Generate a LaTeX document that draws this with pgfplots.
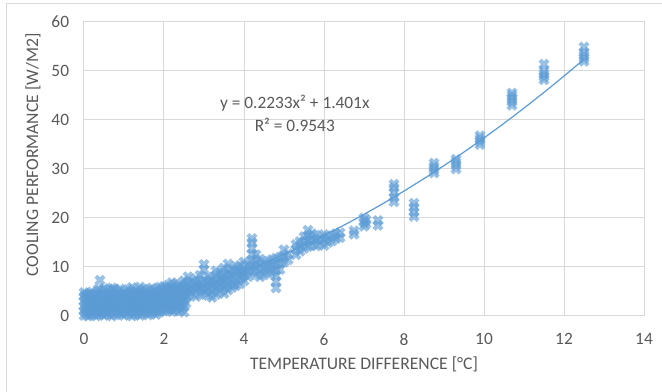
\documentclass[border=0pt]{standalone}
\usepackage{pgfplots}
\pgfplotsset{compat=1.18}
\usepackage{fontspec}
\setmainfont{Carlito}
\definecolor{ser}{RGB}{91,155,213}
\definecolor{gridc}{RGB}{217,217,217}
\definecolor{txt}{RGB}{89,89,89}
\begin{document}
\begin{tikzpicture}
\useasboundingbox (0,0) rectangle (496.5pt,294pt);
\draw[gridc, line width=0.75pt] (4.9pt,0) -- (4.9pt,291pt) -- (496.5pt,291pt);
\begin{axis}[
  at={(63pt,57pt)}, anchor=south west,
  scale only axis, width=420pt, height=220.5pt,
  xmin=0, xmax=14, ymin=0, ymax=60,
  xtick={0,2,...,14}, ytick={0,10,...,60},
  grid=major, major grid style={gridc, line width=0.75pt},
  axis line style={gridc, line width=0.75pt},
  major tick length=0pt,
  tick label style={font=\fontsize{13}{15}\selectfont, text=txt},
  /pgf/number format/assume math mode=true,
  yticklabel style={anchor=east, inner sep=0pt, xshift=-11pt},
  xticklabel style={anchor=north, inner sep=0pt, yshift=-13pt},
  xlabel={TEMPERATURE DIFFERENCE [°C]},
  ylabel={COOLING PERFORMANCE [W/M2]},
  label style={font=\fontsize{13.2}{15}\selectfont, text=txt},
  xlabel style={at={(axis description cs:0.5,-0.163)}, anchor=center, inner sep=0pt},
  ylabel style={at={(axis description cs:-0.091,0.5476)}, anchor=center, inner sep=0pt, rotate=0},
  clip=false,
]
\addplot[only marks, mark=x, mark size=4.3pt, color=ser, mark options={line width=3.1pt, draw opacity=0.62}] coordinates {
(0.00,0.1) (0.00,1.0) (0.00,2.0) (0.00,3.0) (0.00,4.0) (0.00,4.8)
(0.05,0.5) (0.05,2.5) (0.05,3.6) (0.05,1.5) (0.05,4.3)
(0.10,0.0) (0.10,1.2) (0.10,2.2) (0.10,3.3) (0.10,4.4)
(0.15,0.6) (0.15,1.8) (0.15,2.9) (0.15,4.6)
(0.20,0.2) (0.20,1.4) (0.20,2.6) (0.20,3.8) (0.20,4.9)
(0.25,0.7) (0.25,1.9) (0.25,3.1) (0.25,4.2)
(0.30,0.0) (0.30,1.1) (0.30,2.3) (0.30,3.5) (0.30,4.5)
(0.35,0.6) (0.35,1.8) (0.35,3.0) (0.35,4.2) (0.35,5.4)
(0.40,0.3) (0.40,1.5) (0.40,2.7) (0.40,3.9) (0.40,5.2) (0.40,7.3)
(0.45,0.8) (0.45,2.0) (0.45,3.2) (0.45,4.4)
(0.50,0.1) (0.50,1.2) (0.50,2.4) (0.50,3.6) (0.50,4.8) (0.50,5.6)
(0.55,0.6) (0.55,1.8) (0.55,3.0) (0.55,4.2)
(0.60,0.4) (0.60,1.6) (0.60,2.8) (0.60,4.0) (0.60,5.3)
(0.65,1.0) (0.65,2.2) (0.65,3.4) (0.65,4.6)
(0.70,0.0) (0.70,1.3) (0.70,2.5) (0.70,3.7) (0.70,4.9) (0.70,5.7)
(0.75,0.7) (0.75,1.9) (0.75,3.1) (0.75,4.3) (0.75,5.5)
(0.80,0.2) (0.80,1.5) (0.80,2.7) (0.80,3.9) (0.80,5.1)
(0.85,0.9) (0.85,2.1) (0.85,3.3) (0.85,4.6)
(0.90,0.5) (0.90,1.7) (0.90,3.0) (0.90,4.2) (0.90,5.5)
(0.95,0.7) (0.95,2.0) (0.95,3.2) (0.95,4.5)
(1.00,0.1) (1.00,1.3) (1.00,2.6) (1.00,3.8) (1.00,5.0)
(1.05,0.8) (1.05,2.0) (1.05,3.3) (1.05,4.5)
(1.10,0.4) (1.10,1.6) (1.10,2.9) (1.10,4.1) (1.10,5.4)
(1.15,1.0) (1.15,2.2) (1.15,3.4) (1.15,4.7)
(1.20,0.0) (1.20,1.2) (1.20,2.5) (1.20,3.7) (1.20,4.9) (1.20,5.8)
(1.25,0.6) (1.25,1.9) (1.25,3.1) (1.25,4.4)
(1.30,0.3) (1.30,1.5) (1.30,2.8) (1.30,4.0) (1.30,5.2)
(1.35,0.9) (1.35,2.1) (1.35,3.4) (1.35,4.6)
(1.40,0.1) (1.40,1.4) (1.40,2.6) (1.40,3.9) (1.40,5.1) (1.40,5.9)
(1.45,0.8) (1.45,2.0) (1.45,3.3) (1.45,4.6)
(1.50,0.5) (1.50,1.7) (1.50,3.0) (1.50,4.2) (1.50,5.5)
(1.55,1.0) (1.55,2.3) (1.55,3.6) (1.55,4.8)
(1.60,0.2) (1.60,1.4) (1.60,2.7) (1.60,3.9) (1.60,5.3)
(1.65,0.9) (1.65,2.1) (1.65,3.4) (1.65,4.7)
(1.70,0.6) (1.70,1.8) (1.70,3.1) (1.70,4.4) (1.70,5.7)
(1.75,1.1) (1.75,2.4) (1.75,3.7) (1.75,5.0)
(1.80,0.3) (1.80,1.5) (1.80,2.8) (1.80,4.1) (1.80,5.4)
(1.85,1.0) (1.85,2.2) (1.85,3.5) (1.85,4.8)
(1.90,0.8) (1.90,2.0) (1.90,3.3) (1.90,4.6) (1.90,5.9)
(1.95,1.4) (1.95,2.7) (1.95,4.0) (1.95,5.3)
(2.00,1.0) (2.00,2.2) (2.00,3.5) (2.00,4.8) (2.00,6.0)
(2.05,1.6) (2.05,2.9) (2.05,4.2) (2.05,5.6)
(2.10,1.3) (2.10,2.6) (2.10,3.9) (2.10,5.2) (2.10,6.3)
(2.15,1.8) (2.15,3.0) (2.15,4.4) (2.15,5.7)
(2.20,0.9) (2.20,2.0) (2.20,3.2) (2.20,4.5) (2.20,5.8) (2.20,6.8)
(2.25,1.2) (2.25,2.5) (2.25,3.8) (2.25,5.1)
(2.30,1.5) (2.30,2.8) (2.30,4.1) (2.30,5.4) (2.30,6.6)
(2.35,2.0) (2.35,3.3) (2.35,4.6) (2.35,6.0)
(2.40,1.0) (2.40,2.4) (2.40,3.7) (2.40,5.0) (2.40,6.2)
(2.45,1.6) (2.45,2.9) (2.45,4.2) (2.45,5.5)
(2.50,0.8) (2.50,2.0) (2.50,3.4) (2.50,4.7) (2.50,6.0) (2.50,7.2)
(2.55,2.6) (2.55,3.9) (2.55,5.2) (2.55,6.5)
(2.60,4.2) (2.60,5.5) (2.60,6.8) (2.60,8.0)
(2.65,5.0) (2.70,4.6) (2.70,5.8) (2.70,7.1) (2.75,6.3)
(2.80,4.0) (2.80,5.3) (2.80,6.5) (2.80,7.6) (2.85,5.8)
(2.90,4.4) (2.90,5.7) (2.90,7.0) (2.90,8.3) (2.95,6.4)
(3.00,4.8) (3.00,6.0) (3.00,7.3) (3.00,9.5) (3.00,10.5) (3.05,5.2)
(3.10,4.2) (3.10,5.5) (3.10,6.7) (3.10,8.0) (3.15,7.2)
(3.20,3.8) (3.20,5.0) (3.20,6.3) (3.20,7.5) (3.25,5.6)
(3.30,4.4) (3.30,5.7) (3.30,7.0) (3.30,8.3) (3.30,9.2) (3.35,6.6)
(3.40,5.0) (3.40,6.2) (3.40,7.5) (3.40,8.8) (3.45,7.9)
(3.50,4.6) (3.50,5.9) (3.50,7.2) (3.50,8.5) (3.50,9.8) (3.55,6.5)
(3.60,5.3) (3.60,6.6) (3.60,7.9) (3.60,9.2) (3.60,10.6) (3.65,8.5)
(3.70,5.8) (3.70,7.0) (3.70,8.3) (3.70,9.6) (3.75,6.4)
(3.80,6.2) (3.80,7.5) (3.80,8.8) (3.80,10.1) (3.85,9.4)
(3.90,6.6) (3.90,7.9) (3.90,9.1) (3.90,10.3) (3.95,8.4)
(4.00,7.2) (4.00,8.4) (4.00,9.6) (4.00,11.0)
(4.10,8.0) (4.10,9.2) (4.10,10.4)
(4.20,9.0) (4.20,10.2) (4.20,11.4) (4.20,12.6) (4.20,13.8) (4.20,15.0) (4.20,15.8)
(4.30,8.5) (4.30,9.8) (4.30,11.0) (4.30,12.5)
(4.40,8.0) (4.40,9.2) (4.40,10.4) (4.40,11.6)
(4.50,8.4) (4.50,9.6) (4.50,10.8)
(4.60,8.8) (4.60,10.0) (4.60,11.2)
(4.70,9.0) (4.70,10.2) (4.70,11.5)
(4.80,5.7) (4.80,7.0) (4.80,8.2) (4.80,9.4) (4.80,10.6) (4.80,11.8)
(4.90,9.5) (4.90,10.8) (4.90,12.0)
(5.00,11.0) (5.00,12.2) (5.00,13.5)
(5.10,11.5) (5.10,12.7)
(5.30,12.5) (5.30,13.6) (5.30,14.6)
(5.40,13.2) (5.40,14.3) (5.40,15.2)
(5.50,13.8) (5.50,15.0) (5.50,16.2)
(5.60,14.2) (5.60,15.4) (5.60,16.4) (5.60,17.5)
(5.70,14.5) (5.70,15.6) (5.70,16.8)
(5.80,14.3) (5.80,15.5) (5.80,16.5)
(5.90,14.8) (5.90,15.9)
(6.00,14.4) (6.00,15.6) (6.00,16.6)
(6.10,15.0) (6.10,16.1)
(6.20,15.3) (6.20,16.4)
(6.30,15.8) (6.30,16.8)
(6.40,16.0) (6.40,17.0)
(6.75,16.7) (6.75,17.4)
(7.00,18.3) (7.00,19.2) (7.00,20.0)
(7.05,18.8) (7.05,19.6)
(7.35,18.5) (7.35,19.5)
(7.75,23.3) (7.75,24.2) (7.75,25.2) (7.75,26.2) (7.75,26.9)
(8.25,20.3) (8.25,21.2) (8.25,22.2) (8.25,23.0)
(8.75,29.2) (8.75,29.8) (8.75,30.5) (8.75,31.2)
(9.30,30.0) (9.30,30.7) (9.30,31.4) (9.30,32.0)
(9.90,35.0) (9.90,35.6) (9.90,36.2) (9.90,36.8)
(10.70,43.0) (10.70,43.7) (10.70,44.4) (10.70,45.0) (10.70,45.5)
(11.50,48.2) (11.50,48.8) (11.50,49.4) (11.50,50.0) (11.50,51.4)
(12.50,52.0) (12.50,52.6) (12.50,53.2) (12.50,53.8) (12.50,54.9)
};
\addplot[ser, line width=0.9pt, smooth] coordinates {
(0,0) (0.5,0.756) (1,1.624) (1.5,2.604) (2,3.695) (2.5,4.898) (3,6.213)
(3.5,7.639) (4,9.177) (4.5,10.826) (5,12.588) (5.5,14.460) (6,16.445)
(6.5,18.541) (7,20.749) (7.5,23.068) (8,25.499) (8.5,28.042) (9,30.696)
(9.5,33.462) (10,36.34) (10.5,39.329) (11,42.430) (11.5,45.643) (12,48.967) (12.5,52.403)
};
\node[font=\fontsize{13}{15}\selectfont, text=txt] at (axis cs:5.27,43.5) {y = 0.2233x² + 1.401x};
\node[font=\fontsize{13}{15}\selectfont, text=txt] at (axis cs:5.27,39.0) {R² = 0.9543};
\end{axis}
\end{tikzpicture}
\end{document}
